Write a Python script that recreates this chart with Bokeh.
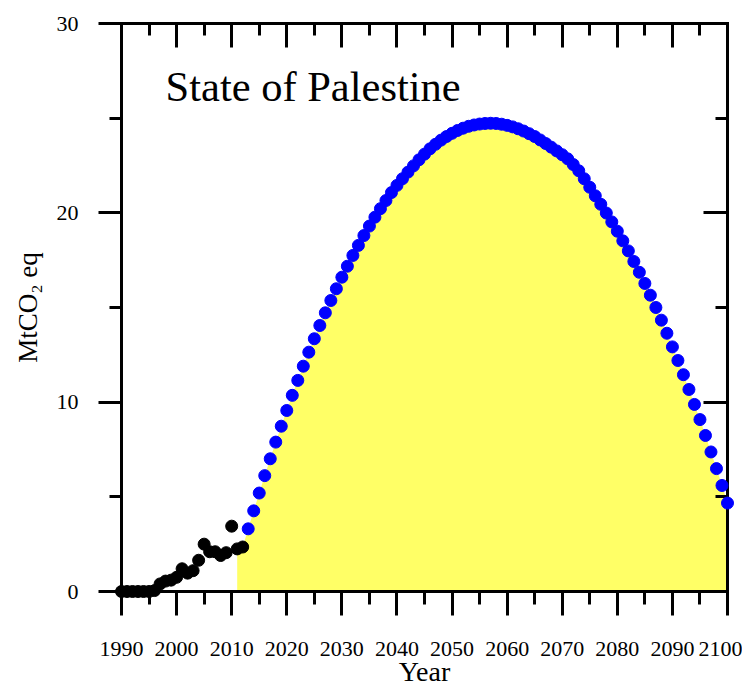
from bokeh.plotting import figure
from bokeh.models import Range1d, LinearAxis, SingleIntervalTicker, Label, CustomJSTickFormatter
from bokeh.embed import file_html
from bokeh.resources import INLINE

# ---- data ----
hist_years = list(range(1990, 2013))
hist_vals = [0, 0, 0, 0, 0, 0, 0.05, 0.4, 0.55, 0.6, 0.75, 1.2, 0.97, 1.1,
             1.65, 2.5, 2.1, 2.1, 1.9, 2.05, 3.45, 2.25, 2.35]

proj_years = list(range(2013, 2101))
proj_vals = [3.31, 4.26, 5.2, 6.12, 7.01, 7.89, 8.73, 9.56, 10.36, 11.15,
             11.9, 12.64, 13.35, 14.05, 14.72, 15.37, 15.99, 16.6, 17.18, 17.75,
             18.28, 18.8, 19.3, 19.77, 20.22, 20.65, 21.07, 21.45, 21.8, 22.15,
             22.48, 22.8, 23.1, 23.38, 23.62, 23.84, 24.03, 24.2, 24.35, 24.47,
             24.57, 24.64, 24.69, 24.72, 24.73, 24.72, 24.68, 24.62, 24.54, 24.44,
             24.32, 24.18, 24.03, 23.85, 23.66, 23.47, 23.27, 23.07, 22.85, 22.55,
             22.22, 21.8, 21.35, 20.9, 20.45, 19.99, 19.52, 19.03, 18.52, 17.99,
             17.43, 16.86, 16.27, 15.65, 15.0, 14.33, 13.64, 12.92, 12.2, 11.45,
             10.67, 9.88, 9.08, 8.24, 7.37, 6.49, 5.6, 4.67]

fill_years = hist_years[-2:] + proj_years
fill_vals = hist_vals[-2:] + proj_vals

x_tick_interval = 10
y_tick_interval = 10
title_text = "State of Palestine"
x_label = "Year"
y_label = "MtCO\u2082 eq"

FONT = "Liberation Serif"

p = figure(width=742, height=690,
           x_range=Range1d(1990, 2100), y_range=Range1d(0, 30),
           output_backend="svg", toolbar_location=None,
           min_border_left=121, min_border_right=15,
           min_border_top=23, min_border_bottom=99)
p.outline_line_color = None
p.xgrid.visible = False
p.ygrid.visible = False
p.background_fill_color = "white"
p.border_fill_color = "white"

p.varea(x=fill_years, y1=0, y2=fill_vals, fill_color="#FFFF66", fill_alpha=1.0)

r1 = p.scatter(hist_years, hist_vals, size=12, color="black", level="overlay")
r2 = p.scatter(proj_years, proj_vals, size=12, color="#0000FF", level="overlay")


def style_axis(ax, tin, tout, minin, minout, labels=True):
    ax.axis_line_width = 3
    ax.axis_line_color = "black"
    ax.axis_line_cap = "square"
    ax.major_tick_line_width = 3
    ax.minor_tick_line_width = 3
    ax.major_tick_line_color = "black"
    ax.minor_tick_line_color = "black"
    ax.major_tick_in = tin
    ax.major_tick_out = tout
    ax.minor_tick_in = minin
    ax.minor_tick_out = minout
    if labels:
        ax.major_label_text_font = FONT
        ax.major_label_text_font_size = "22px"
        ax.major_label_text_color = "black"
    else:
        ax.formatter = CustomJSTickFormatter(code="return ''")
        ax.major_label_standoff = 0


xax = p.xaxis[0]
xax.ticker = SingleIntervalTicker(interval=x_tick_interval, num_minor_ticks=2)
style_axis(xax, 0, 24, 0, 13)
xax.major_label_standoff = 26
xax.axis_label = x_label
xax.axis_label_text_font = FONT
xax.axis_label_text_font_size = "28px"
xax.axis_label_text_font_style = "normal"
xax.axis_label_text_color = "black"
xax.axis_label_standoff = -3

yax = p.yaxis[0]
yax.ticker = SingleIntervalTicker(interval=y_tick_interval, num_minor_ticks=2)
style_axis(yax, 0, 23, 0, 12)
yax.major_label_standoff = 20
yax.axis_label = y_label
yax.axis_label_text_font = FONT
yax.axis_label_text_font_size = "27px"
yax.axis_label_text_font_style = "normal"
yax.axis_label_text_color = "black"
yax.axis_label_standoff = 11

top = LinearAxis(ticker=SingleIntervalTicker(interval=x_tick_interval, num_minor_ticks=2))
style_axis(top, 24, 0, 12, 0, labels=False)
p.add_layout(top, "above")

right = LinearAxis(ticker=SingleIntervalTicker(interval=y_tick_interval, num_minor_ticks=2))
style_axis(right, 24, 0, 12, 0, labels=False)
p.add_layout(right, "right")

p.add_layout(Label(x=1998.0, y=26.68, text=title_text, text_font=FONT,
                   text_font_size="42.5px", text_baseline="alphabetic",
                   text_color="black"))

open("out.html", "w").write(file_html(p, INLINE))
